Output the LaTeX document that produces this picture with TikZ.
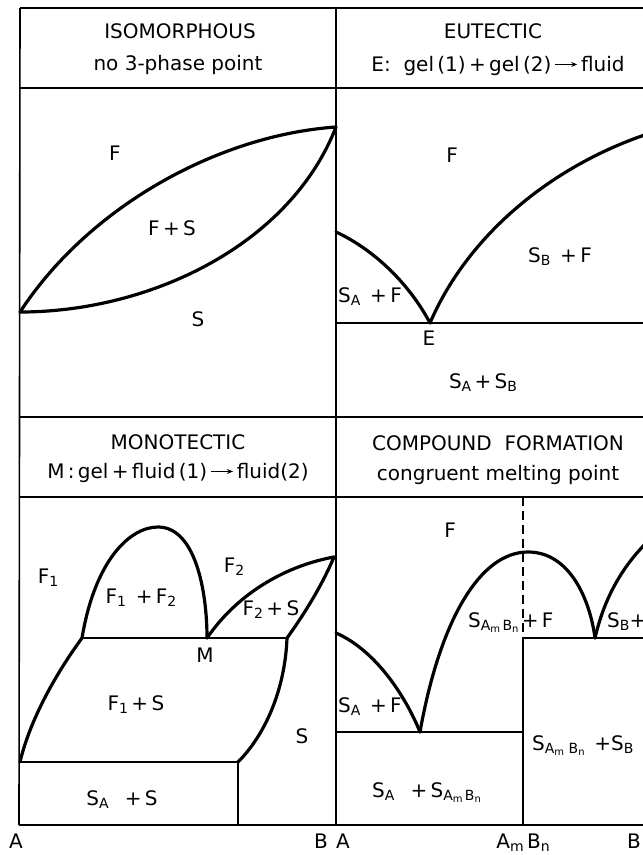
\documentclass[tikz,border=0pt]{standalone}
\usepackage{fontspec}
\setmainfont{DejaVu Sans}
\usetikzlibrary{arrows.meta}
\newcommand\lsub[1]{\raisebox{-0.3ex}{\fontsize{14}{14}\selectfont #1}}
\newcommand\llsub[1]{\raisebox{-0.3ex}{\fontsize{10}{10}\selectfont #1}}
\newcommand\rarr{\tikz[baseline=-0.6ex,x=1pt,y=1pt]\draw[line width=1pt,-{Stealth[length=6pt,width=5pt]}](0,0)--(22,0);}
\begin{document}
\begin{tikzpicture}[x=1pt,y=-1pt,
  frame/.style={line width=1.6pt},
  phase/.style={line width=3.2pt, line join=round, line cap=round},
  tie/.style={line width=2.2pt},
  lbl/.style={anchor=base, inner sep=0pt, font=\fontsize{20}{22}\selectfont}]
\useasboundingbox (0,0) rectangle (643,855);
\clip (0,0) rectangle (643,855);
\fill[white] (0,0) rectangle (643,855);
% frame
\draw[frame] (20,8) -- (670,8);
\draw[frame] (20,88) -- (670,88);
\draw[frame] (20,417) -- (670,417);
\draw[frame] (20,497) -- (670,497);
\draw[frame] (19,825) -- (670,825);
\draw[frame] (20,8) -- (19,825);
\draw[frame] (336,8) -- (336,825);
% headers
\node[lbl] (h1a) at (180,38) {ISOMORPHOUS};
\node[lbl] (h1b) at (178,70) {no 3-phase point};
\node[lbl] (h2a) at (493,38) {EUTECTIC};
\node[lbl] (h2b) at (498,71) {E:\ \ gel\,(1)\,+\,gel\,(2)\,\rarr\,fluid};
\node[lbl] (h3a) at (178,449) {MONOTECTIC};
\node[lbl] (h3b) at (178,478) {M\,:\,gel\,+\,fluid\,(1)\,\rarr\,fluid(2)};
\node[lbl] (h4a) at (498,450) {COMPOUND\ \ FORMATION};
\node[lbl] (h4b) at (498,480) {congruent melting point};
% panel 1: isomorphous
\draw[phase] (20,312) .. controls (90,205) and (220,135) .. (336,127);
\draw[phase] (20,312) .. controls (150,312) and (290,245) .. (336,127);
\node[lbl] (p1F) at (115,160) {F};
\node[lbl] (p1FS) at (172,235) {F\,+\,S};
\node[lbl] (p1S) at (198,326) {S};
% panel 2: eutectic
\draw[tie] (336,323) -- (670,323);
\draw[phase] (336,232) .. controls (375,250) and (410,285) .. (430,323);
\draw[phase] (430,323) .. controls (470,230) and (560,160) .. (660,130);
\node[lbl] (p2F) at (452,162) {F};
\node[lbl] (p2SBF) at (560,262) {S\lsub{B}\ \,+\,F};
\node[lbl] (p2SAF) at (370,302) {S\lsub{A}\ \,+\,F};
\node[lbl] (p2E) at (429,345) {E};
\node[lbl] (p2SS) at (483,388) {S\lsub{A}\,+\,S\lsub{B}};
% panel 3: monotectic
\draw[phase] (82,638) .. controls (95,560) and (130,527) .. (158,527) .. controls (195,527) and (207,590) .. (207,638);
\draw[tie] (82,638) -- (287,638);
\draw[phase] (207,638) .. controls (240,590) and (290,565) .. (334,557);
\draw[phase] (334,557) .. controls (320,590) and (300,620) .. (287,638);
\draw[phase] (287,638) .. controls (285,690) and (265,735) .. (238,762);
\draw[phase] (82,638) .. controls (55,675) and (30,720) .. (20,762);
\draw[tie] (20,762) -- (238,762);
\draw[frame] (238,762) -- (238,825);
\node[lbl] (p3F1) at (48,583) {F\lsub{1}};
\node[lbl] (p3F1F2) at (141,603) {F\lsub{1}\ \,+\,F\lsub{2}};
\node[lbl] (p3F2) at (234,572) {F\lsub{2}};
\node[lbl] (p3F2S) at (271,615) {F\lsub{2}\,+\,S};
\node[lbl] (p3M) at (205,662) {M};
\node[lbl] (p3F1S) at (136,710) {F\lsub{1}\,+\,S};
\node[lbl] (p3S) at (302,743) {S};
\node[lbl] (p3SAS) at (122,805) {S\lsub{A}\ \ \,+\,S};
% panel 4: compound formation
\draw[tie] (336,732) -- (523,732);
\draw[frame] (523,638) -- (523,825);
\draw[frame, dash pattern=on 9pt off 5pt] (523,497) -- (523,638);
\draw[tie] (523,638) -- (670,638);
\draw[phase] (336,633) .. controls (375,650) and (405,695) .. (420,732);
\draw[phase] (420,732) .. controls (440,620) and (480,552) .. (528,552) .. controls (570,552) and (590,600) .. (595,638);
\draw[phase] (595,638) .. controls (605,595) and (625,560) .. (660,530);
\node[lbl] (p4F) at (450,537) {F};
\node[lbl, anchor=base west] (p4SF) at (468,627) {S\lsub{A\llsub{m}\,B\llsub{n}}\,+\,F};
\node[lbl, anchor=base west] (p4SBF) at (607,627) {S\lsub{B}+F};
\node[lbl, anchor=base west] (p4SAF) at (338,712) {S\lsub{A}\ \,+\,F};
\node[lbl, anchor=base west] (p4SS) at (532,750) {S\lsub{A\llsub{m}\ B\llsub{n}}\ \,+S\lsub{B}};
\node[lbl, anchor=base west] (p4SASS) at (372,797) {S\lsub{A}\ \ \,+\,S\lsub{A\llsub{m}\,B\llsub{n}}};
% axis labels
\node[lbl] (xA1) at (16,848) {A};
\node[lbl] (xB1) at (321,848) {B};
\node[lbl] (xA2) at (343,848) {A};
\node[lbl] (xAB) at (523,848) {A\lsub{m}\,B\lsub{n}};
\node[lbl] (xB2) at (634,848) {B};
\end{tikzpicture}
\end{document}
